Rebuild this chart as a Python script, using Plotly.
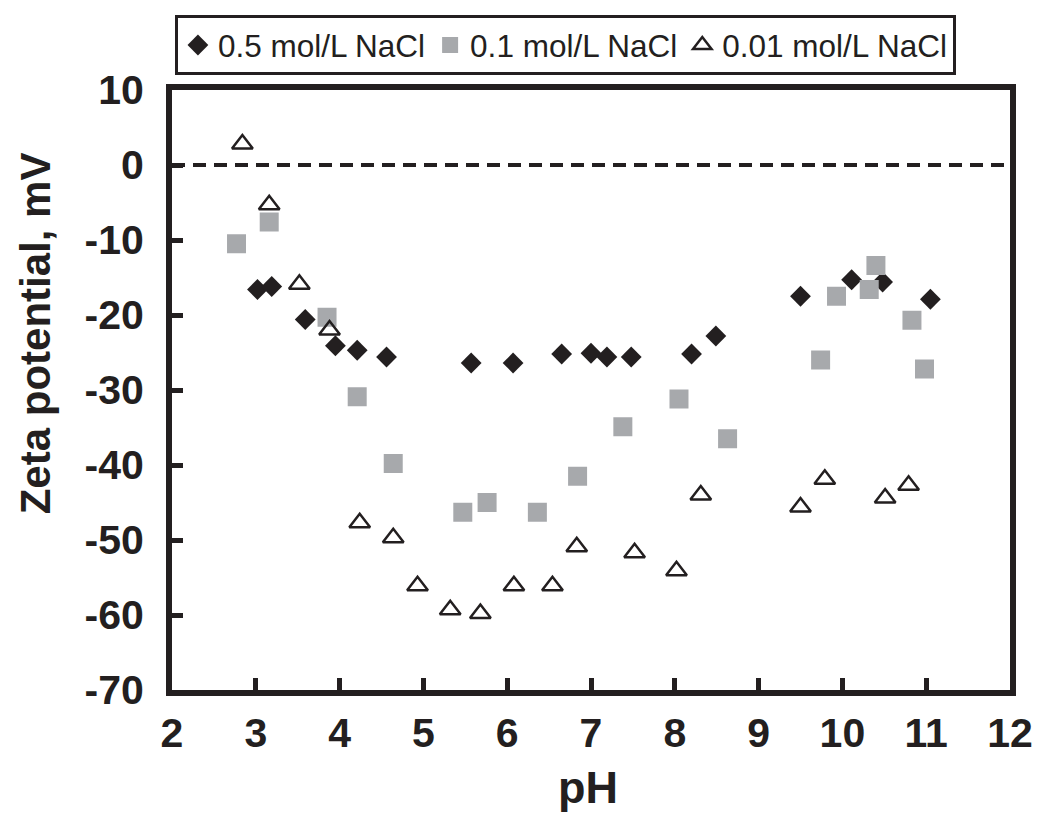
import plotly.graph_objects as go

# ---- data ----
ph_05 = [3.02, 3.19, 3.59, 3.95, 4.21, 4.56, 5.57, 6.07, 6.65, 7.00, 7.19, 7.48, 8.20, 8.49, 9.50, 10.11, 10.48, 11.05]
zeta_05 = [-16.6, -16.2, -20.6, -24.1, -24.7, -25.6, -26.4, -26.4, -25.2, -25.1, -25.6, -25.6, -25.2, -22.8, -17.5, -15.3, -15.6, -17.9]

ph_01 = [2.77, 3.16, 3.85, 4.21, 4.64, 5.47, 5.76, 6.36, 6.84, 7.38, 8.05, 8.63, 9.74, 9.93, 10.32, 10.40, 10.83, 10.98]
zeta_01 = [-10.5, -7.6, -20.3, -30.9, -39.8, -46.3, -45.0, -46.3, -41.5, -34.9, -31.2, -36.5, -26.0, -17.5, -16.6, -13.4, -20.7, -27.2]

ph_001 = [2.84, 3.16, 3.52, 3.88, 4.24, 4.64, 4.93, 5.32, 5.68, 6.08, 6.54, 6.83, 7.52, 8.02, 8.31, 9.50, 9.79, 10.51, 10.79]
zeta_001 = [2.8, -5.3, -15.9, -22.0, -47.7, -49.7, -56.1, -59.3, -59.8, -56.1, -56.1, -50.9, -51.7, -54.1, -44.0, -45.6, -41.9, -44.4, -42.7]

series_names = ["0.5 mol/L NaCl", "0.1 mol/L NaCl", "0.01 mol/L NaCl"]
x_ticks = [2, 3, 4, 5, 6, 7, 8, 9, 10, 11, 12]
y_ticks = [10, 0, -10, -20, -30, -40, -50, -60, -70]
y_tick_labels = ["10", "0", "-10", "-20", "-30", "-40", "-50", "-60", "-70"]

FONT = "Arial, Liberation Sans, Helvetica, sans-serif"
INK = "#231f20"
GRAY = "#a7a9ac"

fig = go.Figure()
fig.add_trace(go.Scatter(
    x=ph_05, y=zeta_05, mode="markers", name=series_names[0],
    marker=dict(symbol="diamond", size=16, color=INK, line=dict(width=0)),
))
fig.add_trace(go.Scatter(
    x=ph_01, y=zeta_01, mode="markers", name=series_names[1],
    marker=dict(symbol="square", size=19, color=GRAY, line=dict(width=0)),
))
fig.add_trace(go.Scatter(
    x=ph_001, y=zeta_001, mode="markers", name=series_names[2],
    marker=dict(symbol="triangle-up-open", size=18, color=INK, line=dict(width=2.5, color=INK)),
))

fig.add_shape(type="line", xref="paper", yref="y", x0=0, x1=1, y0=0, y1=0,
              line=dict(color=INK, width=4, dash="13px,8px"))

fig.update_layout(
    width=1045, height=814,
    margin=dict(l=172, r=27, t=90, b=124, pad=0),
    paper_bgcolor="white", plot_bgcolor="white",
    font=dict(family=FONT, color=INK),
    showlegend=True,
    legend=dict(
        orientation="h", x=0.0035, y=1.125, xanchor="left", yanchor="top",
        bordercolor=INK, borderwidth=3, bgcolor="white",
        font=dict(family=FONT, size=31.5, color=INK),
        itemwidth=30, tracegroupgap=0,
    ),
    xaxis=dict(
        range=[2, 12], tickmode="array", tickvals=x_ticks,
        ticks="inside", ticklen=12, tickwidth=5, tickcolor=INK,
        showline=True, linewidth=6, linecolor=INK, mirror=True,
        showgrid=False, zeroline=False,
        tickfont=dict(family=FONT, size=41, color=INK, weight="bold"),
        ticklabelstandoff=2,
    ),
    yaxis=dict(
        range=[-70, 10], tickmode="array", tickvals=y_ticks, ticktext=y_tick_labels,
        ticks="inside", ticklen=11, tickwidth=5, tickcolor=INK,
        showline=True, linewidth=6, linecolor=INK, mirror=True,
        showgrid=False, zeroline=False,
        tickfont=dict(family=FONT, size=41, color=INK, weight="bold"),
        ticklabelstandoff=14,
    ),
    annotations=[
        dict(text="Zeta potential, mV", textangle=-90, xref="paper", yref="paper",
             x=(34 - 172) / 846, y=(690 - 333) / 600, xanchor="center", yanchor="middle",
             showarrow=False, font=dict(family=FONT, size=42, color=INK, weight="bold")),
        dict(text="pH", xref="paper", yref="paper",
             x=(592 - 172) / 846, y=(690 - 787) / 600, xanchor="center", yanchor="middle",
             showarrow=False, font=dict(family=FONT, size=45, color=INK, weight="bold")),
    ],
)

fig.write_html("out.html")
